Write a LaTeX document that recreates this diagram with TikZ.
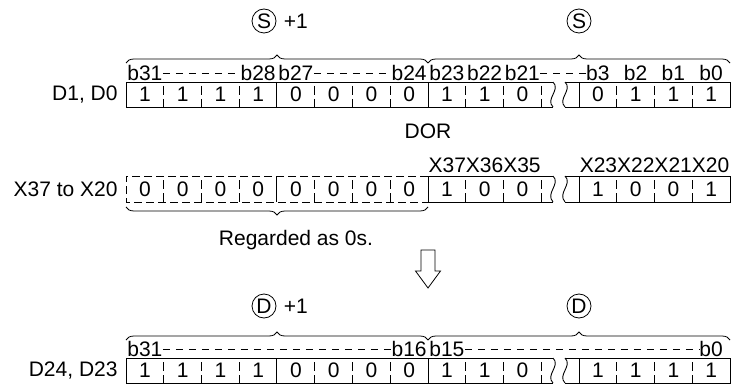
\documentclass[tikz,border=0pt]{standalone}
\usepackage{fontspec}
\setmainfont{Liberation Sans}
\usetikzlibrary{positioning, calc, decorations.pathreplacing}

\begin{document}
\begin{tikzpicture}[
    x=1pt, y=-1pt,
    line width=0.9pt,
    every node/.style={font=\fontsize{21}{25}\selectfont, inner sep=0pt},
    opnd/.style={circle, draw, line width=0.8pt, minimum size=24pt},
    sepline/.style={dash pattern=on 9pt off 4pt},
    leader/.style={line width=0.8pt, dash pattern=on 7pt off 6pt},
    dashframe/.style={dash pattern=on 8pt off 4pt},
    bracebar/.style={decorate, decoration={brace, amplitude=8pt}, line width=0.8pt}
]
    \pgfmathsetmacro{\cw}{37.75}
    \useasboundingbox (0,0) rectangle (735,385);

    % ==================== ROW 1: D1, D0 ====================
    \begin{scope}
        % Operand marks
        \node[opnd] (shi) at (264,21) {S};
        \node[right=7pt of shi] (shiplus) {+1};
        \node[opnd] (slo) at (579,21) {S};

        % Braces
        \coordinate (sL) at (126,63);
        \coordinate (sM) at (428,63);
        \coordinate (sR) at (730,63);
        \draw[bracebar] (sL) -- (sM);
        \draw[bracebar] (sM) -- (sR);

        % Bit labels
        \node (sb31) at ({126+0.5*\cw},73) {b31};
        \node (sb28) at ({126+3.5*\cw},73) {b28};
        \node (sb27) at ({126+4.5*\cw},73) {b27};
        \node (sb24) at ({126+7.5*\cw},73) {b24};
        \node (sb23) at ({126+8.5*\cw},73) {b23};
        \node (sb22) at ({126+9.5*\cw},73) {b22};
        \node (sb21) at ({126+10.5*\cw},73) {b21};
        \node (sb3) at ({579+0.5*\cw},73) {b3};
        \node (sb2) at ({579+1.5*\cw},73) {b2};
        \node (sb1) at ({579+2.5*\cw},73) {b1};
        \node (sb0) at ({579+3.5*\cw},73) {b0};
        \draw[leader] (sb31.east) -- (sb28.west);
        \draw[leader] (sb27.east) -- (sb24.west);
        \draw[leader] (sb21.east) -- (sb3.west);

        % Register
        \node[anchor=east] (slbl) at (118,94.5) {D1, D0};
        \draw (553,82) -- (126,82) -- (126,107) -- (553,107);
        \draw (276,82) -- (276,107) (428,82) -- (428,107);
        \foreach \k in {1,2,3,5,6,7,9,10,11}
            \draw[sepline] ({126+\k*\cw},86) -- ({126+\k*\cw},107);
        \draw (553,82) .. controls (561,90) and (545,99) .. (553,107);
        \draw (565,82) .. controls (573,90) and (557,99) .. (565,107);
        \draw (565,82) -- (730,82) -- (730,107) -- (565,107);
        \draw (579,82) -- (579,107);
        \foreach \k in {1,2,3}
            \draw[sepline] ({579+\k*\cw},86) -- ({579+\k*\cw},107);
        \foreach \d [count=\i from 0] in {1,1,1,1,0,0,0,0,1,1,0}
            \node (sd\i) at ({126+(\i+0.5)*\cw},94.5) {\d};
        \foreach \d [count=\i from 0] in {0,1,1,1}
            \node (sr\i) at ({579+(\i+0.5)*\cw},94.5) {\d};
    \end{scope}

    % ==================== ROW 2: X37 to X20 ====================
    \begin{scope}
        \node (dor) at (428,131) {DOR};

        % Device labels
        \node (xhi) at ({126+9.5*\cw},165) {X37X36X35};
        \node (xlo) at ({579+2*\cw},165) {X23X22X21X20};

        % Register
        \node[anchor=east] (xlbl) at (118,189) {X37 to X20};
        \draw[dashframe] (428,176) -- (126,176) -- (126,202) -- (428,202);
        \draw (276,176) -- (276,202);
        \draw (553,176) -- (428,176) -- (428,202) -- (553,202);
        \foreach \k in {1,2,3,5,6,7,9,10,11}
            \draw[sepline] ({126+\k*\cw},180) -- ({126+\k*\cw},202);
        \draw (553,176) .. controls (561,184) and (545,193) .. (553,202);
        \draw (565,176) .. controls (573,184) and (557,193) .. (565,202);
        \draw (565,176) -- (730,176) -- (730,202) -- (565,202);
        \draw (579,176) -- (579,202);
        \foreach \k in {1,2,3}
            \draw[sepline] ({579+\k*\cw},180) -- ({579+\k*\cw},202);
        \foreach \d [count=\i from 0] in {0,0,0,0,0,0,0,0,1,0,0}
            \node (xd\i) at ({126+(\i+0.5)*\cw},189) {\d};
        \foreach \d [count=\i from 0] in {1,0,0,1}
            \node (xr\i) at ({579+(\i+0.5)*\cw},189) {\d};

        % Zero brace
        \coordinate (zL) at (126,207);
        \coordinate (zM) at (428,207);
        \draw[bracebar] (zM) -- (zL);
        \node (zero) at (296,240) {Regarded as 0s.};
    \end{scope}

    % Result arrow
    \draw[line width=0.8pt] (421,250) -- (435,250) -- (435,271) -- (440.5,271)
        -- (428,288) -- (415.5,271) -- (421,271) -- cycle;

    % ==================== ROW 3: D24, D23 ====================
    \begin{scope}
        % Operand marks
        \node[opnd] (dhi) at (264,306) {D};
        \node[right=7pt of dhi] (dhiplus) {+1};
        \node[opnd] (dlo) at (579,306) {D};

        % Braces
        \coordinate (dL) at (126,340);
        \coordinate (dM) at (428,340);
        \coordinate (dR) at (730,340);
        \draw[bracebar] (dL) -- (dM);
        \draw[bracebar] (dM) -- (dR);

        % Bit labels
        \node (db31) at ({126+0.5*\cw},349) {b31};
        \node (db16) at ({126+7.5*\cw},349) {b16};
        \node (db15) at ({126+8.5*\cw},349) {b15};
        \node (db0) at ({579+3.5*\cw},349) {b0};
        \draw[leader] (db31.east) -- (db16.west);
        \draw[leader] (db15.east) -- (db0.west);

        % Register
        \node[anchor=east] (dlbl) at (118,370.5) {D24, D23};
        \draw (553,358) -- (126,358) -- (126,383) -- (553,383);
        \draw (276,358) -- (276,383) (428,358) -- (428,383);
        \foreach \k in {1,2,3,5,6,7,9,10,11}
            \draw[sepline] ({126+\k*\cw},362) -- ({126+\k*\cw},383);
        \draw (553,358) .. controls (561,366) and (545,375) .. (553,383);
        \draw (565,358) .. controls (573,366) and (557,375) .. (565,383);
        \draw (565,358) -- (730,358) -- (730,383) -- (565,383);
        \draw (579,358) -- (579,383);
        \foreach \k in {1,2,3}
            \draw[sepline] ({579+\k*\cw},362) -- ({579+\k*\cw},383);
        \foreach \d [count=\i from 0] in {1,1,1,1,0,0,0,0,1,1,0}
            \node (dd\i) at ({126+(\i+0.5)*\cw},370.5) {\d};
        \foreach \d [count=\i from 0] in {1,1,1,1}
            \node (dr\i) at ({579+(\i+0.5)*\cw},370.5) {\d};
    \end{scope}
\end{tikzpicture}
\end{document}
